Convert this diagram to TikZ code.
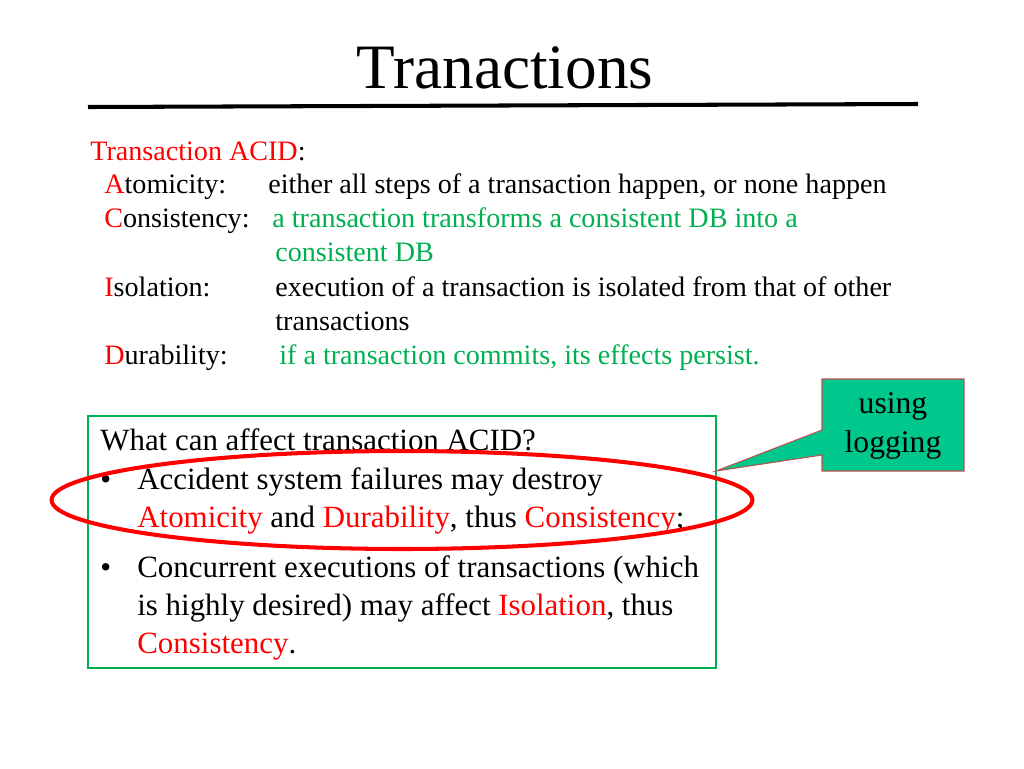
\documentclass[tikz,border=0pt]{standalone}
\usepackage{fontspec}
\setmainfont{Liberation Serif}
\usetikzlibrary{shapes.geometric}
\definecolor{acidgreen}{RGB}{0,176,80}
\definecolor{calloutfill}{RGB}{0,200,140}
\definecolor{calloutline}{RGB}{190,80,80}
\begin{document}
\begin{tikzpicture}[x=0.02cm,y=-0.02cm,
    body/.style ={anchor=base west, inner sep=0pt, font=\fontsize{16pt}{18pt}\selectfont},
    boxtext/.style ={anchor=base west, inner sep=0pt, font=\fontsize{17.6pt}{20pt}\selectfont}]
   \useasboundingbox (0,0) rectangle (1024,768);
   \node[inner sep=0pt, font=\fontsize{36pt}{40pt}\selectfont] (title) at (505,68) {Tranactions};
   \coordinate (ruleL) at (88,107);
   \coordinate (ruleR) at (918,104);
   \draw[line width=2.3pt] (ruleL) -- (ruleR);

   % ACID list
   \node[body] (acid) at (90,160) {\textcolor{red}{Transaction ACID}:};
   \node[body] (atom) at (104,193) {\textcolor{red}{A}tomicity:};
   \node[body] (atomdef) at (268,193) {either all steps of a transaction happen, or none happen};
   \node[body] (cons) at (104,227) {\textcolor{red}{C}onsistency:};
   \node[body, text=acidgreen] (consdef) at (272,227) {a transaction transforms a consistent DB into a};
   \node[body, text=acidgreen] (consdefb) at (275,261) {consistent DB};
   \node[body] (isol) at (104,296) {\textcolor{red}{I}solation:};
   \node[body] (isoldef) at (275,296) {execution of a transaction is isolated from that of other};
   \node[body] (isoldefb) at (275,330) {transactions};
   \node[body] (dura) at (104,364) {\textcolor{red}{D}urability:};
   \node[body, text=acidgreen] (duradef) at (279,364) {if a transaction commits, its effects persist.};

   % question box
   \draw[acidgreen, line width=1.6pt] (88,416) rectangle (716,668);
   \node[boxtext] (q) at (100,450) {What can affect transaction ACID?};
   \node[boxtext] (b1) at (100,489) {\textbullet};
   \node[boxtext] (t1) at (137,489) {Accident system failures may destroy};
   \node[boxtext] (t1b) at (137,527) {\textcolor{red}{Atomicity} and \textcolor{red}{Durability}, thus \textcolor{red}{Consistency};};
   \node[boxtext] (b2) at (100,577) {\textbullet};
   \node[boxtext] (t2) at (137,577) {Concurrent executions of transactions (which};
   \node[boxtext] (t2b) at (137,615) {is highly desired) may affect \textcolor{red}{Isolation}, thus};
   \node[boxtext] (t2c) at (137,653) {\textcolor{red}{Consistency}.};
   \node[draw=red, line width=2.3pt, ellipse, inner sep=0pt, minimum width=14.02cm, minimum height=1.96cm] (ring) at (402,500) {};

   % callout
   \coordinate (tip) at (716,471);
   \draw[calloutline, fill=calloutfill, line width=0.6pt]
     (822,379) -- (964,379) -- (964,471) -- (822,471) -- (822,455) -- (tip) -- (822,430) -- cycle;
   \node[align=center, inner sep=0pt, font=\fontsize{18pt}{22pt}\selectfont] (using) at (893,426) {using\\logging};
 \end{tikzpicture}
\end{document}
